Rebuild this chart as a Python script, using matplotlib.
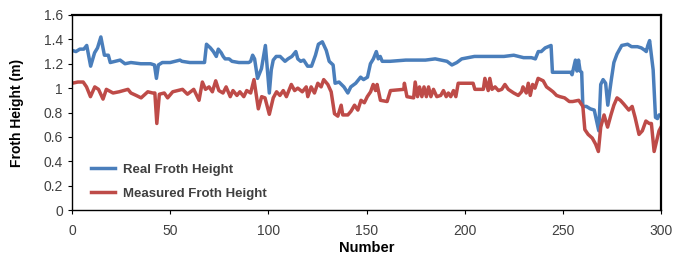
import matplotlib
matplotlib.use("Agg")
import matplotlib.pyplot as plt
from matplotlib.ticker import FormatStrFormatter

plt.rcParams['font.family'] = ['Liberation Sans', 'DejaVu Sans']

# values (sample number, froth height in m)
real_x = [0, 2, 4, 6, 7.5, 9.5, 11.5, 13, 14.7, 16.5, 18.5, 19.5, 22, 24.5, 27, 30, 35, 40, 42, 43,
          44, 46, 50, 55, 56, 60, 65, 67.5, 68.5, 70.5, 72, 73.5, 74.5, 76, 77, 78, 80, 81.5, 85, 90,
          91, 92, 93, 94.5, 96.5, 98.5, 99.5, 100.5, 101.5, 102.5, 104, 106, 108.5, 110, 112, 114, 115,
          116.5, 118, 120, 122, 124, 125.5, 127.5, 129.5, 131, 133, 134, 136, 138.5, 140.5, 142, 144.5,
          147, 148.5, 150.5, 152, 153.5, 155, 156, 157, 158, 162, 170, 180, 185, 191, 193.5, 196, 198.5,
          205, 215, 220, 225, 230, 234, 236, 237.5, 239, 241, 244, 244.7, 250, 254, 254.7, 256.4, 257.2,
          258, 258.8, 259.6, 260.2, 262, 264, 266, 268.3, 269.3, 270.5, 271.8, 272.9, 274.7, 276, 277.6,
          280, 283, 285, 288, 290, 291.8, 292.5, 293.3, 294.2, 296, 297.2, 298.2, 299, 300]
real_y = [1.31, 1.30, 1.32, 1.32, 1.35, 1.18, 1.29, 1.33, 1.42, 1.27, 1.27, 1.21, 1.22, 1.23, 1.20, 1.21, 1.20, 1.20, 1.19, 1.08,
          1.19, 1.21, 1.21, 1.23, 1.22, 1.21, 1.21, 1.21, 1.36, 1.33, 1.30, 1.26, 1.32, 1.29, 1.26, 1.24, 1.24, 1.22, 1.21, 1.21,
          1.22, 1.27, 1.24, 1.08, 1.16, 1.35, 1.15, 0.96, 1.15, 1.23, 1.26, 1.26, 1.22, 1.24, 1.26, 1.30, 1.24,
          1.22, 1.23, 1.18, 1.18, 1.27, 1.36, 1.38, 1.31, 1.22, 1.19, 1.04, 1.05, 1.01, 0.96, 1.01, 1.04,
          1.09, 1.07, 1.09, 1.20, 1.24, 1.30, 1.24, 1.26, 1.22, 1.22, 1.23, 1.23, 1.24, 1.22, 1.19, 1.21, 1.24,
          1.26, 1.26, 1.26, 1.27, 1.25, 1.25, 1.24, 1.30, 1.30, 1.33, 1.35, 1.13, 1.13, 1.13, 1.11, 1.23, 1.14,
          1.23, 1.14, 1.13, 0.85, 0.85, 0.83, 0.82, 0.65, 1.03, 1.07, 1.04, 0.86, 1.07, 1.21, 1.28,
          1.35, 1.36, 1.34, 1.34, 1.33, 1.31, 1.30, 1.35, 1.39, 1.15, 0.76, 0.75, 0.78, 0.78]

meas_x = [0, 3, 5.7, 7.4, 9.4, 11.6, 13.5, 15.8, 17.5, 20.9, 24, 28.5, 30, 32.7, 35.2, 38.6, 41.1, 42.2, 43.2, 44.5,
          47, 48.7, 51.3, 56.3, 58.8, 62, 64.7, 66.4, 68, 69.8, 71.5, 73.2, 74.8, 76.9, 78.5, 80.6, 82, 84, 85.5,
          87.5, 89, 91, 92.7, 93.6, 94.9, 96.6, 98.3, 100.5, 102.5, 104.2, 105.9, 107.6, 109.2, 111.7, 113.4,
          115, 117.3, 119.3, 120.1, 121.8, 123.5, 125.2, 126.9, 128.2, 130.3, 132, 133.7, 135.4, 137.1, 137.9,
          140.5, 142.1, 143.9, 145.6, 147.2, 148.9, 150.4, 152.1, 153.4, 154.6, 155.4, 157.1, 160.5, 162.2,
          169, 169.3, 170.6, 174, 174.8, 176, 177, 178.2, 179.3, 180.5, 181.6, 182.8, 184.1, 185.8, 187.8,
          189.2, 190.6, 191.7, 192.9, 194.3, 195.5, 196.7, 204.3, 205.2, 209.5, 210.3, 212, 212.8, 213.9,
          215.5, 217.2, 218.9, 220.5, 222.2, 225, 227.3, 229, 229.7, 231.4, 232.4, 233.4, 234.6, 235.8,
          237.4, 240, 241.7, 243.4, 245, 246.8, 248.5, 250.9, 253.3, 255, 258.1, 260.2, 261.2, 262.9, 265,
          266.7, 268.1, 269.3, 271, 272.8, 274.5, 276, 277.6, 279.3, 281, 283.6, 285.3, 286.8, 288.8, 290.5,
          292.3, 294, 295.1, 296.5, 297.7, 299, 300]
meas_y = [1.04, 1.05, 1.05, 1.01, 0.93, 1.01, 0.99, 0.91, 0.99, 0.96, 0.97, 0.99, 0.96, 0.94, 0.92, 0.97, 0.96, 0.96, 0.71, 0.95,
          0.96, 0.92, 0.97, 0.99, 0.95, 0.99, 0.90, 1.05, 0.99, 1.01, 0.97, 1.06, 0.98, 0.96, 1.01, 0.93, 0.98, 0.94, 0.97,
          0.93, 0.98, 0.96, 1.07, 0.97, 0.83, 0.93, 0.92, 0.785, 0.92, 0.97, 0.94, 0.98, 0.93, 1.03, 0.98,
          1.00, 0.97, 1.01, 0.93, 1.01, 0.96, 1.04, 1.01, 1.07, 1.03, 0.97, 0.79, 0.77, 0.86, 0.78,
          0.78, 0.81, 0.86, 0.82, 0.90, 0.88, 0.93, 0.97, 1.03, 0.98, 1.03, 0.90, 0.89, 0.98,
          0.99, 1.04, 0.93, 0.92, 1.05, 0.93, 1.01, 0.93, 1.01, 0.93, 1.01, 0.93, 0.99, 0.93, 0.94,
          0.98, 0.93, 0.96, 0.93, 0.98, 0.93, 1.04, 1.04, 0.99, 0.99, 1.08, 0.98, 1.08, 0.99,
          1.01, 0.98, 0.99, 1.03, 0.99, 0.96, 0.94, 0.97, 1.01, 0.96, 1.04, 0.94, 1.03, 1.00,
          1.08, 1.06, 1.01, 0.99, 0.97, 0.94, 0.93, 0.92, 0.89, 0.89, 0.90, 0.85, 0.66, 0.62, 0.59,
          0.54, 0.48, 0.68, 0.78, 0.68, 0.78, 0.86, 0.92, 0.90, 0.87, 0.82, 0.85, 0.76, 0.62, 0.65,
          0.73, 0.71, 0.71, 0.48, 0.56, 0.65, 0.68]

series_names = ["Real Froth Height", "Measured Froth Height"]
x_ticks = [0, 50, 100, 150, 200, 250, 300]
y_ticks = [0, 0.2, 0.4, 0.6, 0.8, 1.0, 1.2, 1.4, 1.6]

fig = plt.figure(figsize=(6.75, 2.57), dpi=100)
ax = fig.add_axes([72/675, 1-210/257, 589/675, 195/257])

ax.plot(real_x, real_y, color='#4A7EBB', lw=2.5, label=series_names[0], solid_joinstyle='round')
ax.plot(meas_x, meas_y, color='#BE4B48', lw=2.5, label=series_names[1], solid_joinstyle='round')

ax.set_xlim(0, 300)
ax.set_ylim(0, 1.6)
ax.set_xticks(x_ticks)
ax.set_yticks(y_ticks)
ax.yaxis.set_major_formatter(FormatStrFormatter('%g'))
ax.tick_params(labelsize=10, colors='black', labelcolor='#404040', direction='out', length=3, width=0.8)
ax.tick_params(axis='x', pad=7)

for s in ['left', 'bottom']:
    ax.spines[s].set_linewidth(1.0)
for s in ['top', 'right']:
    ax.spines[s].set_linewidth(1.6)

ax.set_xlabel("Number", fontsize=10.5, fontweight='bold', labelpad=2)
ax.set_ylabel("Froth Height (m)", fontsize=10, fontweight='bold', labelpad=14)

leg = ax.legend(loc='lower left', bbox_to_anchor=(0.012, -0.01), frameon=False,
                prop={'size': 9.5, 'weight': 'bold'}, handlelength=1.8, handletextpad=0.6,
                labelspacing=0.9)
for t in leg.get_texts():
    t.set_color('#404040')

fig.savefig("out.png", dpi=100)
